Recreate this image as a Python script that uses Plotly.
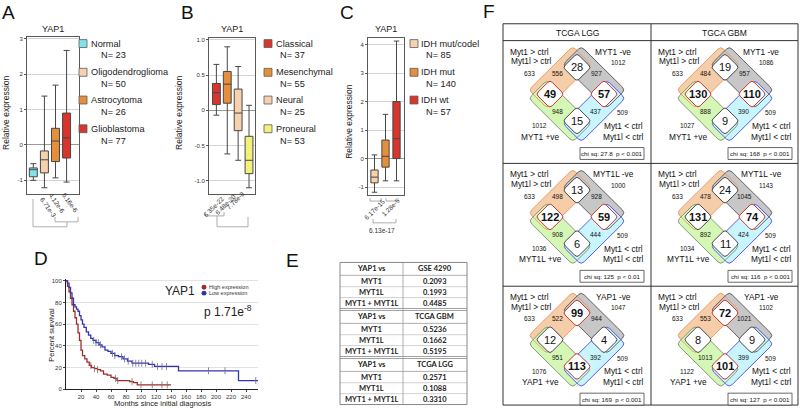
import math
import plotly.graph_objects as go

W, H = 800, 413
FONT = "Arial, Liberation Sans, sans-serif"


def X(px):
    return px / W


def Y(py):
    return 1 - py / H


# ---------------- Panel A data ----------------
a_names = ["Normal", "Oligodendroglioma", "Astrocytoma", "Glioblastoma"]
a_counts = [23, 50, 26, 77]
a_q1 = [-0.90, -0.79, -0.47, -0.37]
a_median = [-0.70, -0.42, 0.11, 0.20]
a_q3 = [-0.65, -0.17, 0.47, 0.90]
a_low = [-1.00, -1.21, -0.93, -1.05]
a_high = [-0.53, 1.38, 1.69, 2.67]
a_pvalues = ["6.71e-3", "4.12e-6", "6.16e-6"]

# ---------------- Panel B data ----------------
b_names = ["Classical", "Mesenchymal", "Neural", "Proneural"]
b_counts = [37, 55, 25, 53]
b_q1 = [0.08, 0.10, -0.29, -0.90]
b_median = [0.25, 0.37, -0.04, -0.71]
b_q3 = [0.38, 0.55, 0.30, -0.37]
b_low = [-0.07, -0.62, -0.71, -1.10]
b_high = [0.65, 0.90, 0.62, 0.07]
b_pvalues = ["6.35e-22", "6.48e-20", "7.78e-8"]

# ---------------- Panel C data ----------------
c_names = ["IDH mut/codel", "IDH mut", "IDH wt"]
c_counts = [85, 140, 57]
c_q1 = [-0.85, -0.30, 0.00]
c_median = [-0.65, 0.08, 0.70]
c_q3 = [-0.40, 0.65, 2.00]
c_low = [-1.18, -0.78, -0.78]
c_high = [0.13, 1.55, 4.12]
c_pvalues = ["6.17e-15", "1.28e-5", "6.13e-17"]

# ---------------- Panel D data (Kaplan-Meier) ----------------
high_months = [0, 2, 4, 6, 8, 10, 12, 14, 16, 18, 20, 22, 25, 28, 31, 34, 38, 42, 46,
               50, 55, 60, 64, 68, 75, 85, 90, 95, 140]
high_surv = [100, 95, 90, 84, 78, 72, 66, 60, 52, 45, 36, 31, 28, 25, 22, 20, 19, 18, 17,
             14, 13, 11, 10, 8, 8, 7, 6, 4, 4]
low_months = [0, 2, 4, 6, 8, 10, 12, 14, 16, 18, 20, 22, 24, 27, 30, 33, 36, 40, 44, 48,
              52, 56, 60, 65, 70, 76, 82, 88, 110, 118, 150, 230, 256]
low_surv = [100, 98, 94, 89, 84, 78, 76, 74, 72, 68, 64, 60, 57, 53, 50, 47, 45, 43, 41, 39,
            36, 35, 33, 31, 30, 28, 26, 24, 23, 21, 17, 8, 8]
high_censor = [33, 38, 42, 66, 69, 88, 100, 115, 128, 135]
low_censor = [37, 40, 43, 46, 62, 65, 74, 78, 83, 89, 93, 97, 101, 106, 115, 122, 128,
              134, 190, 212, 253]
d_pvalue = "1.71e<sup>-8</sup>"

# ---------------- Panel E data ----------------
e_headers = ["GSE 4290", "TCGA GBM", "TCGA LGG"]
e_rows = ["MYT1", "MYT1L", "MYT1 + MYT1L"]
e_gse4290 = [0.2093, 0.1993, 0.4485]
e_tcga_gbm = [0.5236, 0.1662, 0.5195]
e_tcga_lgg = [0.2571, 0.1088, 0.3310]

# ---------------- Panel F data (row-major cells) ----------------
f_columns = ["TCGA LGG", "TGCA GBM"]
f_row_genes = ["MYT1", "MYT1L", "YAP1"]
f_up_total = [633, 633, 633, 633, 633, 633]
f_up_only = [556, 484, 498, 478, 522, 553]
f_neg_total = [1012, 1086, 1000, 1143, 1047, 1102]
f_neg_only = [927, 957, 928, 1045, 944, 1021]
f_pos_total = [1012, 1027, 1036, 1034, 1076, 1122]
f_pos_only = [948, 888, 908, 892, 951, 1013]
f_down_total = [509, 509, 509, 509, 509, 509]
f_down_only = [437, 390, 444, 424, 392, 399]
f_top = [28, 19, 13, 24, 99, 72]
f_left = [49, 130, 122, 131, 12, 8]
f_right = [57, 110, 59, 74, 4, 9]
f_bottom = [15, 9, 6, 11, 113, 101]
f_chi = ["27.8", "168", "125", "116", "169", "127"]
f_p = ["< 0.001", "< 0.001", "< 0.01", "< 0.001", "< 0.001", "< 0.001"]
f_red = [("left", "right"), ("left", "right"), ("left", "right"), ("right",),
         ("top", "bottom"), ("top", "bottom")]
f_bold = [("left", "right"), ("left", "right"), ("left", "right"), ("left", "right"),
          ("top", "bottom"), ("top", "bottom")]

# ---------------- styles ----------------
CYAN, PEACH, ORANGE, RED, YELLOW = "#7FE3EA", "#F5D1AE", "#E58E3C", "#D6362C", "#F3F17A"
a_colors = [CYAN, PEACH, ORANGE, RED]
b_colors = [RED, ORANGE, PEACH, YELLOW]
c_colors = [PEACH, ORANGE, RED]
HIGH_COLOR, LOW_COLOR = "#9C2E2A", "#3434B0"

fig = go.Figure()
shapes = []
ann = []


def text(x, y, s, size, xanchor="center", color="#111", angle=0, family=FONT,
         weight=None, yanchor="middle"):
    f = dict(size=size, color=color, family=family)
    if weight:
        f["weight"] = weight
    ann.append(dict(x=X(x), y=Y(y), xref="paper", yref="paper", text=s, showarrow=False,
                    font=f, xanchor=xanchor, yanchor=yanchor, textangle=angle,
                    borderpad=0))


def line_path(pts, color="#9a9a9a", width=0.8):
    p = "M " + " L ".join(f"{X(x):.5f},{Y(y):.5f}" for x, y in pts)
    shapes.append(dict(type="path", path=p, xref="paper", yref="paper",
                       line=dict(color=color, width=width)))


def rect(x0, y0, x1, y1, fill="rgba(0,0,0,0)", color="#555", width=0.8):
    shapes.append(dict(type="rect", x0=X(x0), x1=X(x1), y0=Y(y1), y1=Y(y0),
                       xref="paper", yref="paper", fillcolor=fill,
                       line=dict(color=color, width=width)))


def hline(x0, x1, y, color="#333", width=1):
    shapes.append(dict(type="line", x0=X(x0), x1=X(x1), y0=Y(y), y1=Y(y),
                       xref="paper", yref="paper", line=dict(color=color, width=width)))


def vline(x, y0, y1, color="#333", width=1):
    shapes.append(dict(type="line", x0=X(x), x1=X(x), y0=Y(y0), y1=Y(y1),
                       xref="paper", yref="paper", line=dict(color=color, width=width)))


def rounded(pts, r):
    n = len(pts)
    cs = []
    for i in range(n):
        px, py = pts[i]
        ax, ay = pts[i - 1]
        bx, by = pts[(i + 1) % n]
        d1 = math.hypot(ax - px, ay - py)
        d2 = math.hypot(bx - px, by - py)
        s = (px + r * (ax - px) / d1, py + r * (ay - py) / d1)
        e = (px + r * (bx - px) / d2, py + r * (by - py) / d2)
        cs.append((s, (px, py), e))
    f = lambda p: f"{X(p[0]):.5f},{Y(p[1]):.5f}"
    path = "M " + f(cs[0][2])
    for i in range(1, n + 1):
        s, p, e = cs[i % n]
        path += " L " + f(s) + " Q " + f(p) + " " + f(e)
    return path + " Z"


# ---------------- box panels ----------------
def box_panel(suffix, q1, med, q3, lo, hi, colors, width):
    for i in range(len(q1)):
        fig.add_trace(go.Box(
            x=[i + 1], q1=[q1[i]], median=[med[i]], q3=[q3[i]],
            lowerfence=[lo[i]], upperfence=[hi[i]], fillcolor=colors[i],
            line=dict(color="#474747", width=1), width=width, whiskerwidth=0.75,
            boxpoints=False, xaxis="x" + suffix, yaxis="y" + suffix,
            showlegend=False, hoverinfo="skip"))


box_panel("", a_q1, a_median, a_q3, a_low, a_high, a_colors, 0.72)
box_panel("2", b_q1, b_median, b_q3, b_low, b_high, b_colors, 0.72)
box_panel("3", c_q1, c_median, c_q3, c_low, c_high, c_colors, 0.66)


def legend(sq_x, txt_x, n_x, ys, names, counts, colors):
    for i, nm in enumerate(names):
        y = ys[i]
        rect(sq_x - 4, y - 4, sq_x + 4, y + 4, fill=colors[i], color="#5a5a5a", width=0.8)
        text(txt_x, y, nm, 9.2, "left", color="#222")
        text(n_x, y + 12, f"N= {counts[i]}", 9.2, "left", color="#222")


legend(83, 90, 100, [43, 72, 100, 129], a_names, a_counts, a_colors)
legend(268, 275, 279, [43, 72, 100, 129], b_names, b_counts, b_colors)
legend(414, 420, 425, [43, 72, 100], c_names, c_counts, c_colors)

# titles / axis titles
for cx in (53, 232, 386):
    text(cx, 28, "YAP1", 9, color="#222")
text(6, 113, "Relative expression", 8.5, angle=-90, color="#222")
text(179, 113, "Relative expression", 8.5, angle=-90, color="#222")
text(349, 122, "Relative expression", 8.5, angle=-90, color="#222")

# p-value brackets
line_path([(33, 200), (33, 228), (67, 228), (67, 223)])
line_path([(55, 218), (55, 223), (78, 223), (78, 218)])
for (x, y), s in zip([(47.5, 208), (57.5, 204), (70, 203.5)], a_pvalues):
    text(x, y, s, 6.5, angle=55, color="#333")

line_path([(205, 213), (205, 217), (224, 217), (224, 213)])
line_path([(217, 217), (217, 228), (248, 228), (248, 218)])
for (x, y), s in zip([(214, 208), (225, 205), (235, 201)], b_pvalues):
    text(x, y, s, 6.5, angle=-45, color="#333")

line_path([(370, 199), (370, 202), (381, 202), (381, 199)])
line_path([(386, 199), (386, 202), (398, 202), (398, 199)])
line_path([(373, 220), (373, 224), (396, 224), (396, 220)])
text(374.5, 211, c_pvalues[0], 6.5, angle=-45, color="#333")
text(390.5, 209, c_pvalues[1], 6.5, angle=-45, color="#333")
text(382, 232, c_pvalues[2], 6.5, color="#333")

# ---------------- Panel D ----------------
fig.add_trace(go.Scatter(x=high_months, y=high_surv, mode="lines", line_shape="hv",
                         line=dict(color=HIGH_COLOR, width=1.3), xaxis="x4", yaxis="y4",
                         showlegend=False, hoverinfo="skip"))
fig.add_trace(go.Scatter(x=low_months, y=low_surv, mode="lines", line_shape="hv",
                         line=dict(color=LOW_COLOR, width=1.3), xaxis="x4", yaxis="y4",
                         showlegend=False, hoverinfo="skip"))


def step_at(ts, ss, t):
    v = ss[0]
    for ti, si in zip(ts, ss):
        if ti <= t:
            v = si
    return v


fig.add_trace(go.Scatter(x=high_censor, y=[step_at(high_months, high_surv, t) for t in high_censor],
                         mode="markers", marker=dict(symbol="line-ns", size=5,
                                                     line=dict(color="#8a6a6a", width=0.8)),
                         xaxis="x4", yaxis="y4", showlegend=False, hoverinfo="skip"))
fig.add_trace(go.Scatter(x=low_censor, y=[step_at(low_months, low_surv, t) for t in low_censor],
                         mode="markers", marker=dict(symbol="line-ns", size=5,
                                                     line=dict(color="#6a6a9a", width=0.8)),
                         xaxis="x4", yaxis="y4", showlegend=False, hoverinfo="skip"))

text(180, 293, "YAP1", 12, color="#222")
shapes.append(dict(type="circle", xref="paper", yref="paper", x0=X(201.5), x1=X(206.5),
                   y0=Y(291.5), y1=Y(286.5), fillcolor=HIGH_COLOR, line=dict(width=0)))
shapes.append(dict(type="circle", xref="paper", yref="paper", x0=X(201.5), x1=X(206.5),
                   y0=Y(297.5), y1=Y(292.5), fillcolor=LOW_COLOR, line=dict(width=0)))
text(208, 289, "High expression", 5.5, "left", color="#333")
text(208, 295, "Low expression", 5.5, "left", color="#333")
text(203, 313, "p " + d_pvalue, 12, "left", color="#222")
text(52, 337, "Percent survival", 7.5, angle=-90, color="#222")
text(162, 406, "Months since initial diagnosis", 7.5, color="#222")

# ---------------- Panel E (table) ----------------
e_values = [e_gse4290, e_tcga_gbm, e_tcga_lgg]
e_l, e_m, e_r = 340, 403, 467
block_tops = [264, 312.5, 361]
EFAM = "Lato, Carlito, Arial, sans-serif"
for bi, b in enumerate(block_tops):
    text((e_l + e_m) / 2, b + 6.5, "YAP1 vs", 7.5, family=EFAM, weight="bold", color="#222")
    text((e_m + e_r) / 2, b + 6.5, e_headers[bi], 7.5, family=EFAM, weight="bold", color="#222")
    for ri, (rn, rv) in enumerate(zip(e_rows, e_values[bi])):
        yc = [b + 18.75, b + 30, b + 41][ri]
        text((e_l + e_m) / 2, yc, rn, 7.5, family=EFAM, weight="bold", color="#222")
        text((e_m + e_r) / 2, yc, f"{rv:.4f}", 7.5, family=EFAM, weight="bold", color="#222")
    hline(e_l, e_r, b + 13, color="#9a9a9a", width=0.8)
    hline(e_l, e_r, b + 24.5, color="#bdbdbd", width=0.7)
    hline(e_l, e_r, b + 35.5, color="#bdbdbd", width=0.7)
    if bi < 2:
        hline(e_l, e_r, b + 46.5, color="#8a8a8a", width=0.8)
        hline(e_l, e_r, b + 48.5, color="#8a8a8a", width=0.8)
vline(e_m, 264, 407.5, color="#9a9a9a", width=0.8)
rect(e_l, 264, e_r, 407.5, color="#7a7a7a", width=0.9)

# ---------------- Panel F (Venn table) ----------------
FT_L, FT_M, FT_R, FT_T, FT_HB = 503, 651, 798, 23, 40
row_tops = [40, 164, 288]
FT_B = 408
rect(FT_L, FT_T, FT_R, FT_B, color="#333", width=1)
hline(FT_L, FT_R, FT_HB)
hline(FT_L, FT_R, 164)
hline(FT_L, FT_R, 288)
vline(FT_M, FT_T, FT_B)
text((FT_L + FT_M) / 2, 32, f_columns[0], 8.5)
text((FT_M + FT_R) / 2, 32, f_columns[1], 8.5)

S2 = math.sqrt(0.5)
SET_FILL = {"up": "#F6CDA9", "neg": "#C7C7C7", "pos": "#D5F7B5", "down": "#C9F5FE"}
SET_LINE = {"up": "#E8955A", "neg": "#555555", "pos": "#7F8C76", "down": "#4B4BE6"}

for k in range(6):
    row, col = divmod(k, 2)
    x0 = FT_L + col * (FT_M - FT_L)
    y0 = row_tops[row]
    cx, cy, d = x0 + 74, y0 + 54, 27
    P = {"top": (cx, cy - d), "left": (cx - d, cy), "right": (cx + d, cy), "bottom": (cx, cy + d)}
    sets = {"up": ("top", "left", (-S2, -S2)), "neg": ("top", "right", (S2, -S2)),
            "pos": ("left", "bottom", (-S2, S2)), "down": ("right", "bottom", (S2, S2))}
    m, hw, sh = 12, 13, 5
    paths = {}
    for key, (p1n, p2n, nv) in sets.items():
        p1, p2 = P[p1n], P[p2n]
        L = math.hypot(p2[0] - p1[0], p2[1] - p1[1])
        a = ((p2[0] - p1[0]) / L, (p2[1] - p1[1]) / L)
        def pt(p, sa, sn):
            return (p[0] + sa * a[0] + sn * nv[0], p[1] + sa * a[1] + sn * nv[1])
        pts = [pt(p1, -m, sh + hw), pt(p2, m, sh + hw), pt(p2, m, sh - hw), pt(p1, -m, sh - hw)]
        paths[key] = rounded(pts, 4)
    for key in ("up", "neg", "pos", "down"):
        shapes.append(dict(type="path", path=paths[key], xref="paper", yref="paper",
                           fillcolor=SET_FILL[key], line=dict(width=0)))
    for key in ("up", "neg", "pos", "down"):
        shapes.append(dict(type="path", path=paths[key], xref="paper", yref="paper",
                           fillcolor="rgba(0,0,0,0)", line=dict(color=SET_LINE[key], width=0.9)))
    counts = {"top": f_top[k], "left": f_left[k], "right": f_right[k], "bottom": f_bottom[k]}
    for pos, (px, py) in P.items():
        r = 14
        dpts = [(px, py - r), (px + r, py), (px, py + r), (px - r, py)]
        red = pos in f_red[k]
        shapes.append(dict(type="path", path=rounded(dpts, 3), xref="paper", yref="paper",
                           fillcolor="white",
                           line=dict(color="#C8342C" if red else "#333", width=1 if red else 0.9)))
        text(px, py, str(counts[pos]), 11, weight="bold" if pos in f_bold[k] else None)
    gene = f_row_genes[row]
    text(cx - 48, cy - 43, "Myt1 &gt; ctrl", 8.3)
    text(cx - 46, cy - 33, "Myt1l &gt; ctrl", 8.3)
    text(cx - 48, cy - 21, str(f_up_total[k]), 6.5)
    text(cx - 20, cy - 21, str(f_up_only[k]), 6.5)
    text(cx + 36, cy - 43, f"{gene} -ve", 8.3)
    text(cx + 41, cy - 32, str(f_neg_total[k]), 6.5)
    text(cx + 19, cy - 21, str(f_neg_only[k]), 6.5)
    text(cx - 20, cy + 18, str(f_pos_only[k]), 6.5)
    text(cx + 18, cy + 18, str(f_down_only[k]), 6.5)
    text(cx - 38, cy + 32, str(f_pos_total[k]), 6.5)
    text(cx - 37, cy + 43, f"{gene} +ve", 8.3)
    text(cx + 45, cy + 19, str(f_down_total[k]), 6.5)
    text(cx + 46, cy + 32, "Myt1 &lt; ctrl", 8.3)
    text(cx + 46, cy + 43, "Myt1l &lt; ctrl", 8.3)
    rect(x0 + 77, y0 + 108, x0 + 141, y0 + 120, fill="white", color="#444", width=0.8)
    text(x0 + 109, y0 + 114, f"chi sq: {f_chi[k]}\u00a0 p {f_p[k]}", 6.2)

# panel letters
for s, x, y in [("A", 8, 12), ("B", 187, 12), ("C", 347, 12), ("D", 41, 260),
                ("E", 292, 262), ("F", 489, 11)]:
    text(x, y, s, 19, color="#111")

# ---------------- axes ----------------
tickfont = dict(size=6, color="#333", family=FONT)


def box_axes(xd, yd, xr, yr, tickvals, ticktext):
    xa = dict(domain=[X(xd[0]), X(xd[1])], range=xr, showticklabels=False, showgrid=False,
              zeroline=False, showline=True, mirror=True, linecolor="#5a5a5a", linewidth=1,
              ticks="", fixedrange=True)
    ya = dict(domain=[Y(yd[1]), Y(yd[0])], range=yr, tickvals=tickvals, ticktext=ticktext,
              tickfont=tickfont, showgrid=True, gridcolor="#d4d4d4", gridwidth=1,
              zeroline=True, zerolinecolor="#9a9a9a", zerolinewidth=1, showline=True,
              mirror=True, linecolor="#5a5a5a", linewidth=1, ticks="outside", ticklen=2,
              tickcolor="#555", fixedrange=True)
    return xa, ya


xa1, ya1 = box_axes((27, 79), (36, 195), [0.43, 5.12], [-1.39, 3.06],
                    [-1, 0, 1, 2, 3], ["-1", "0", "1", "2", "3"])
xa2, ya2 = box_axes((209, 255), (37, 195), [0.32, 4.55], [-1.19, 1.03],
                    [-1, -0.5, 0, 0.5, 1], ["-1.0", "-0.5", "0", "0.5", "1.0"])
xa3, ya3 = box_axes((368, 404), (37, 196), [0.41, 3.68], [-1.28, 4.24],
                    [-1, 0, 1, 2, 3, 4], ["-1", "0", "1", "2", "3", "4"])
xa1["anchor"], ya1["anchor"] = "y", "x"
xa2["anchor"], ya2["anchor"] = "y2", "x2"
xa3["anchor"], ya3["anchor"] = "y3", "x3"

xa4 = dict(domain=[X(66), X(258)], range=[0, 256], tickvals=list(range(20, 241, 20)),
           tickfont=tickfont, showgrid=False, zeroline=False, showline=True,
           linecolor="#222", linewidth=1, ticks="outside", ticklen=2, tickcolor="#444",
           anchor="y4", fixedrange=True)
ya4 = dict(domain=[Y(392), Y(281)], range=[0, 101.5], tickvals=[0, 20, 40, 60, 80, 100],
           tickfont=tickfont, showgrid=True, gridcolor="#e2e2e2", zeroline=False,
           showline=True, linecolor="#222", linewidth=1, ticks="outside", ticklen=2,
           tickcolor="#444", anchor="x4", fixedrange=True)

fig.update_layout(
    width=W, height=H, margin=dict(l=0, r=0, t=0, b=0),
    paper_bgcolor="white", plot_bgcolor="white",
    font=dict(family=FONT, color="#222"),
    xaxis=xa1, yaxis=ya1, xaxis2=xa2, yaxis2=ya2, xaxis3=xa3, yaxis3=ya3,
    xaxis4=xa4, yaxis4=ya4,
    shapes=shapes, annotations=ann, showlegend=False, boxmode="overlay",
)

fig.write_html("out.html", config={"displayModeBar": False},
               post_script="document.body.style.margin='0';document.body.style.overflow='hidden';")
